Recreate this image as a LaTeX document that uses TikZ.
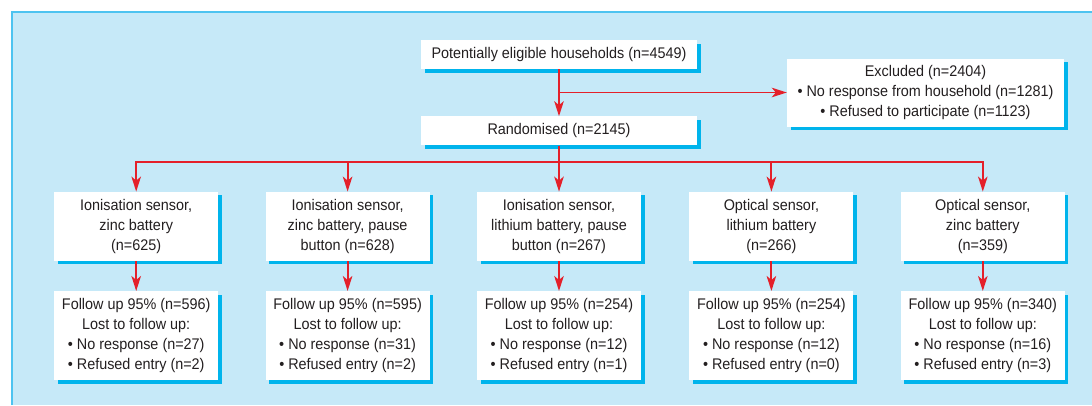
\documentclass[tikz,border=0pt]{standalone}
\usepackage{fontspec}
\setmainfont{Liberation Sans}[FakeStretch=0.935]
\usepackage{tikz}
\usetikzlibrary{arrows.meta,positioning,shadows,calc}
\definecolor{panelblue}{HTML}{C6E9F8}
\definecolor{edgeblue}{HTML}{4DC3F0}
\definecolor{shadeblue}{HTML}{00B4EC}
\definecolor{arrowred}{HTML}{E4202A}
\definecolor{inkgrey}{HTML}{231F20}

\begin{document}
\begin{tikzpicture}[x=1pt,y=1pt,>={Stealth[length=15pt,width=9.5pt,inset=4pt]},
                    node distance=47pt,font=\fontsize{15.4}{20}\selectfont]
  \tikzstyle{box}=[fill=white,text=inkgrey,align=center,inner sep=2pt,
                   minimum width=164pt,
                   drop shadow={shadow xshift=3.5pt,shadow yshift=-3.5pt,
                                fill=shadeblue,opacity=1}]
  \tikzstyle{link}=[->,draw=arrowred,line width=1.9pt]

  \useasboundingbox (0,0) rectangle (1092,-405);
  \fill[panelblue] (12,-12) rectangle (1092,-405);
  \draw[edgeblue,line width=1.5pt] (12,-405) -- (12,-12) -- (1092,-12);

  \node[box,minimum width=276pt,minimum height=29pt] (elig) at (559,-54.5)
        {Potentially eligible households (n=4549)};
  \node[box,minimum width=276pt,minimum height=29pt] (rand) [below=of elig]
        {Randomised (n=2145)};
  \node[box,minimum width=277pt,minimum height=68pt] (excl) at (925.5,-92.5)
        {Excluded (n=2404)\\ • No response from household (n=1281)\\ • Refused to participate (n=1123)};

  % arms
  \node[box,minimum height=69pt] (g3) [below=46pt of rand]
        {Ionisation sensor,\\ lithium battery, pause\\ button (n=267)};
  \node[box,minimum height=69pt] (g2) [left=of g3]
        {Ionisation sensor,\\ zinc battery, pause\\ button (n=628)};
  \node[box,minimum height=69pt] (g1) [left=of g2]
        {Ionisation sensor,\\ zinc battery\\ (n=625)};
  \node[box,minimum height=69pt] (g4) [right=48pt of g3]
        {Optical sensor,\\ lithium battery\\ (n=266)};
  \node[box,minimum height=69pt] (g5) [right=of g4]
        {Optical sensor,\\ zinc battery\\ (n=359)};

  % follow up
  \node[box,minimum height=89pt] (f1) [below=30pt of g1]
        {Follow up 95\% (n=596)\\ Lost to follow up:\\ • No response (n=27)\\ • Refused entry (n=2)};
  \node[box,minimum height=89pt] (f2) [below=30pt of g2]
        {Follow up 95\% (n=595)\\ Lost to follow up:\\ • No response (n=31)\\ • Refused entry (n=2)};
  \node[box,minimum height=89pt] (f3) [below=30pt of g3]
        {Follow up 95\% (n=254)\\ Lost to follow up:\\ • No response (n=12)\\ • Refused entry (n=1)};
  \node[box,minimum height=89pt] (f4) [below=30pt of g4]
        {Follow up 95\% (n=254)\\ Lost to follow up:\\ • No response (n=12)\\ • Refused entry (n=0)};
  \node[box,minimum height=89pt] (f5) [below=30pt of g5]
        {Follow up 95\% (n=340)\\ Lost to follow up:\\ • No response (n=16)\\ • Refused entry (n=3)};

  \coordinate (split) at (elig.south |- excl.west);
  \coordinate (hub) at ($(rand.south)+(0,-16)$);

  \draw[link] (elig) -- (rand);
  \draw[link] (split) -- (excl);
  \draw[link,-] (rand) -- (hub);
  \draw[link] (hub) -| (g1);
  \draw[link] (hub) -| (g2);
  \draw[link] (hub) -- (g3);
  \draw[link] (hub) -| (g4);
  \draw[link] (hub) -| (g5);

  \path (g1) edge[link] (f1)
        (g2) edge[link] (f2)
        (g3) edge[link] (f3)
        (g4) edge[link] (f4)
        (g5) edge[link] (f5);
\end{tikzpicture}
\end{document}
